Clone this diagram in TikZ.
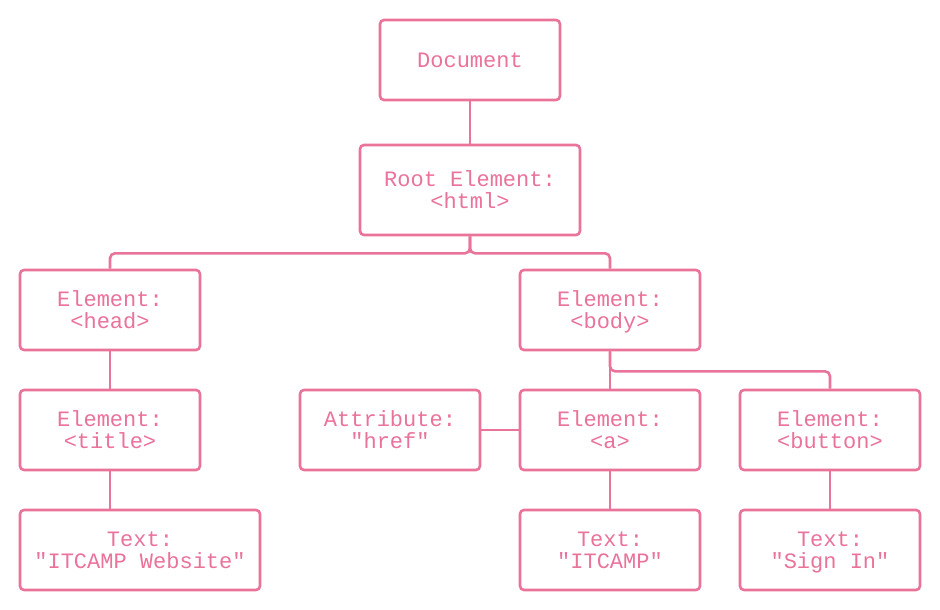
\documentclass[tikz,border=0pt]{standalone}
\usepackage{fontspec}
\setmonofont{Liberation Mono}
\definecolor{pk}{HTML}{EA7399}
\newcommand{\twoln}[2]{\vrule width0pt height20pt depth0pt\relax #1\\#2\vrule width0pt height0pt depth5pt\relax}
\newcommand{\oneln}[1]{\vrule width0pt height20pt depth5pt\relax #1}
\begin{document}
\begin{tikzpicture}[x=1pt,y=-1pt,
  box/.style={draw=pk,line width=2.6pt,rounded corners=4pt,fill=white,
    minimum width=180pt,minimum height=80pt,align=center,inner sep=0pt,
    text=pk,font=\ttfamily\fontsize{22}{22}\selectfont},
  link/.style={draw=pk,line width=2.6pt,rounded corners=5pt}]
\useasboundingbox (0,0) rectangle (940,610);
\node[box] (doc) at (470,60) {\oneln{Document}};
\node[box,minimum width=220pt,minimum height=90pt] (root) at (470,190) {\twoln{Root Element:}{<html>}};
\node[box] (head) at (110,310) {\twoln{Element:}{<head>}};
\node[box] (body) at (610,310) {\twoln{Element:}{<body>}};
\node[box] (title) at (110,430) {\twoln{Element:}{<title>}};
\node[box] (attr) at (390,430) {\twoln{Attribute:}{"href"}};
\node[box] (a) at (610,430) {\twoln{Element:}{<a>}};
\node[box] (button) at (830,430) {\twoln{Element:}{<button>}};
\node[box,minimum width=240pt] (t1) at (140,550) {\twoln{Text:}{"ITCAMP Website"}};
\node[box] (t2) at (610,550) {\twoln{Text:}{"ITCAMP"}};
\node[box] (t3) at (830,550) {\twoln{Text:}{"Sign In"}};
\draw[link] (doc.south) -- (root.north);
\draw[link] (root.south) -- ++(0,17) -| (head.north);
\draw[link] (root.south) -- ++(0,17) -| (body.north);
\draw[link] (head.south) -- (title.north);
\draw[link] (title.south) -- (title.south |- t1.north);
\draw[link] (body.south) -- (a.north);
\draw[link] (body.south) -- ++(0,20) -| (button.north);
\draw[link] (attr.east) -- (a.west);
\draw[link] (a.south) -- (t2.north);
\draw[link] (button.south) -- (t3.north);
\end{tikzpicture}
\end{document}
